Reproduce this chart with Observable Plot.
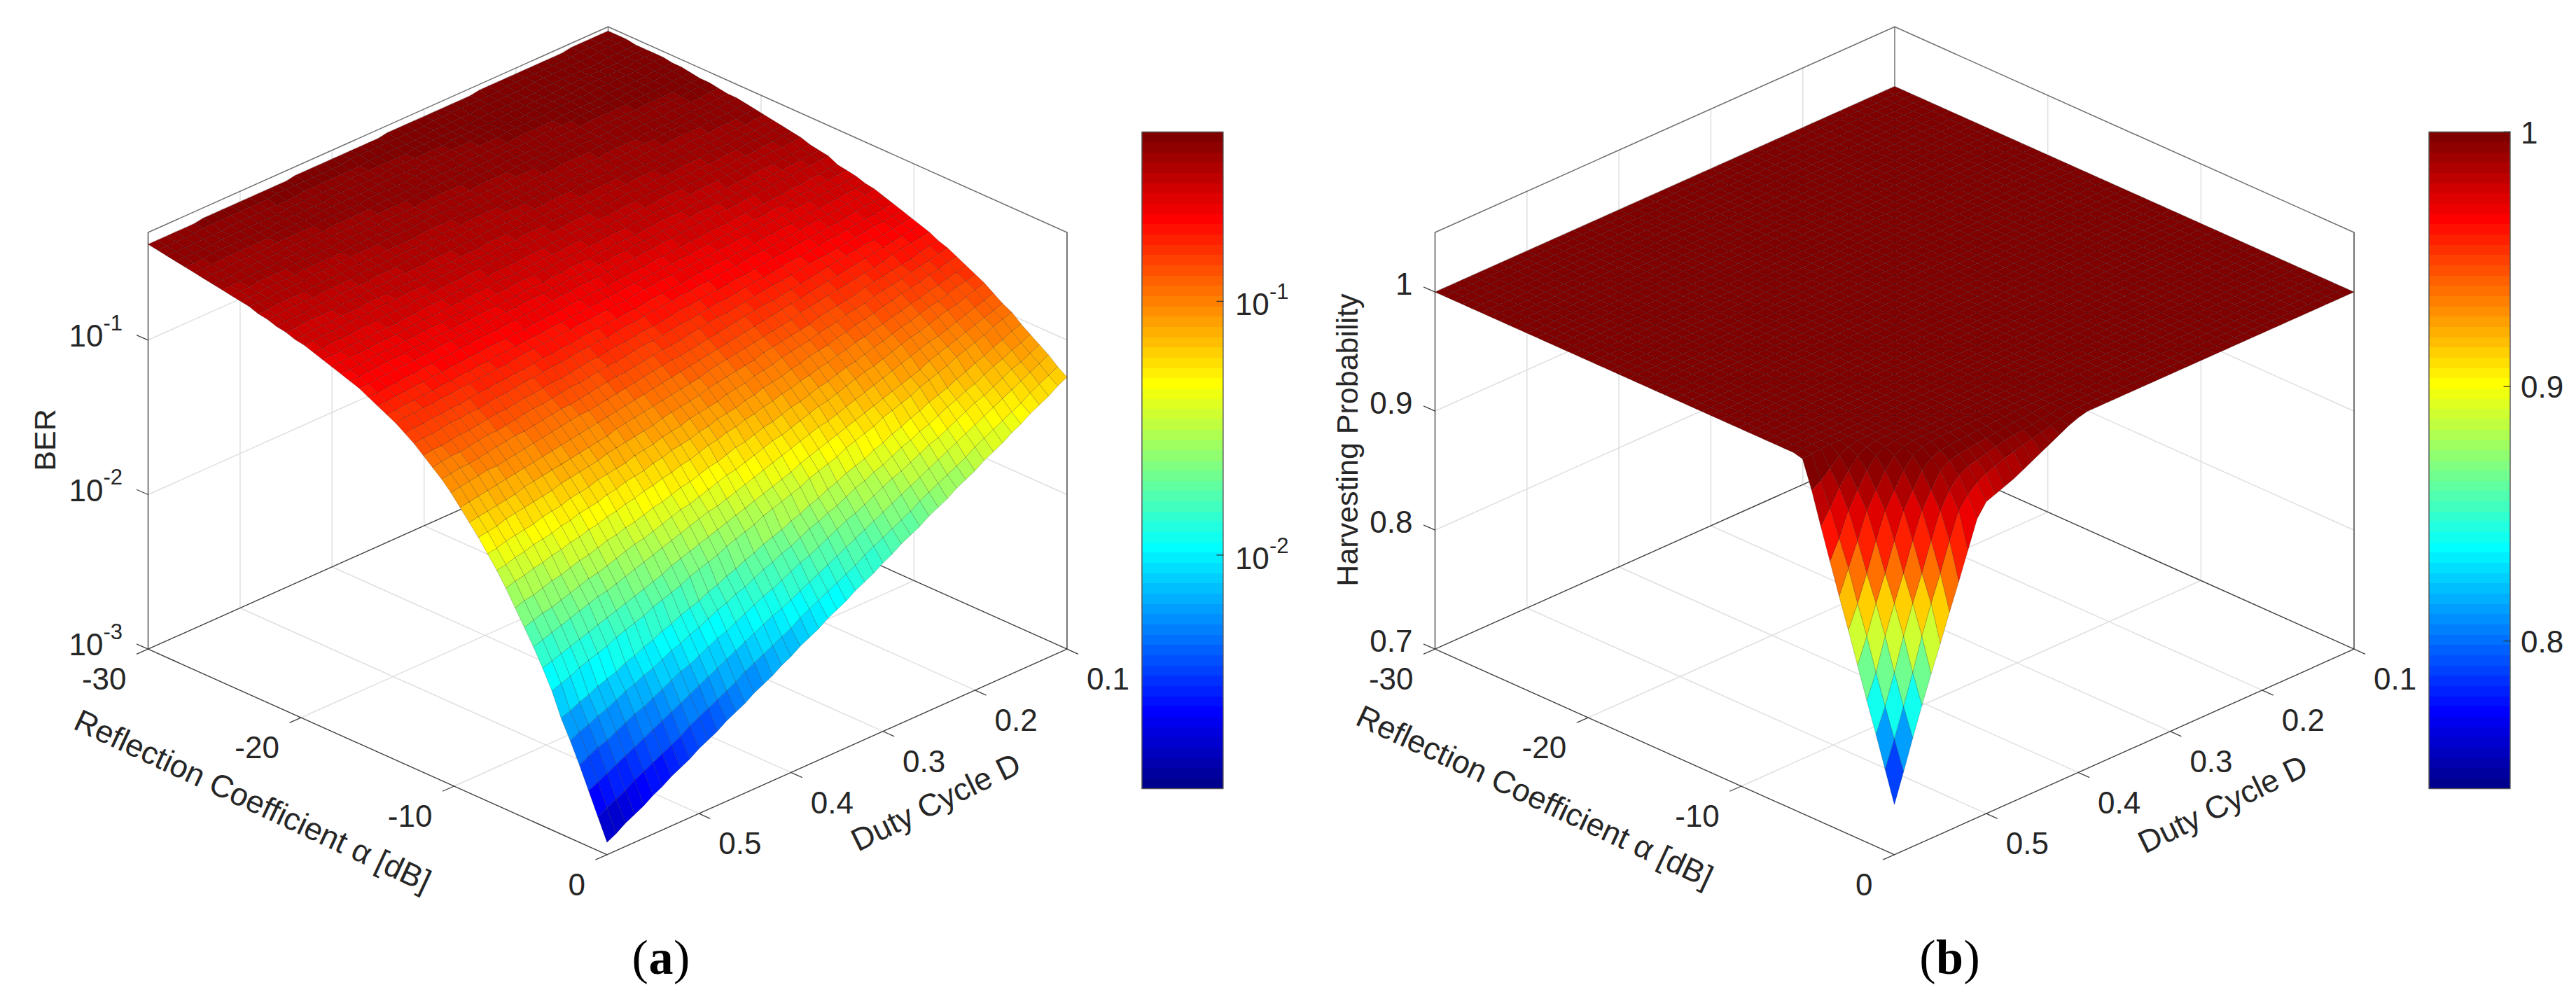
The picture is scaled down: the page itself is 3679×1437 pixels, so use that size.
<!DOCTYPE html>
<html><head><meta charset="utf-8">
<script src="https://cdn.jsdelivr.net/npm/d3@7"></script>
<script src="https://cdn.jsdelivr.net/npm/@observablehq/plot@0.6"></script>
<style>html,body{margin:0;padding:0;background:#fff;overflow:hidden}#a,#b{position:absolute;top:0}#a{left:0}#b{left:1840px}svg{display:block}</style>
</head><body><div id="a"></div><div id="b"></div>
<script>
const alphaTicks = [-30, -20, -10, 0];
const dutyTicks = [0.1, 0.2, 0.3, 0.4, 0.5];
const berTicks = [-1, -2, -3];
const harvestTicks = [1, 0.9, 0.8, 0.7];
const alphaSteps = 50, dutySteps = 50;
// BER, as -100*log10(BER). Rows: alpha -30..0 dB in 0.6 dB steps; columns: D 0.10..0.60 in 0.01 steps.
const berRows = [
[33,33,33,33,33,34,34,34,34,34,34,34,34,34,34,35,35,35,35,35,35,35,35,35,35,36,36,36,36,36,36,36,36,36,36,37,37,37,37,37,37,37,37,37,37,38,38,38,38,38,38],
[33,33,33,33,33,34,34,34,34,34,34,34,34,35,35,35,35,35,35,35,35,36,36,36,36,36,36,36,36,36,37,37,37,37,37,37,37,37,38,38,38,38,38,38,38,38,39,39,39,39,39],
[33,33,33,33,34,34,34,34,34,34,34,35,35,35,35,35,35,36,36,36,36,36,37,37,37,37,37,37,37,38,38,38,38,38,38,38,39,39,39,39,39,39,39,39,40,40,40,40,40,40,40],
[34,34,34,34,35,35,35,35,35,35,35,36,36,36,36,36,36,36,37,37,37,37,37,37,37,38,38,38,38,38,38,38,39,39,39,39,39,39,39,40,40,40,40,40,40,40,41,41,41,41,41],
[34,34,34,35,35,35,35,35,35,35,36,36,36,36,36,36,37,37,37,37,37,37,38,38,38,38,38,38,38,39,39,39,39,39,39,40,40,40,40,40,40,41,41,41,41,41,41,41,42,42,42],
[34,34,34,35,35,35,35,35,35,36,36,36,36,36,37,37,37,37,37,37,38,38,38,38,38,38,39,39,39,39,39,40,40,40,40,40,40,41,41,41,41,41,42,42,42,42,42,42,43,43,43],
[34,34,34,35,35,35,35,35,36,36,36,36,36,37,37,37,37,37,38,38,38,38,38,39,39,39,39,39,40,40,40,40,40,41,41,41,41,41,42,42,42,42,42,43,43,43,43,43,44,44,44],
[35,35,35,36,36,36,36,36,37,37,37,37,37,38,38,38,38,38,39,39,39,39,39,40,40,40,40,40,41,41,41,41,41,42,42,42,42,42,43,43,43,43,43,44,44,44,44,44,45,45,45],
[35,35,35,36,36,36,36,37,37,37,37,37,38,38,38,38,39,39,39,39,39,40,40,40,40,41,41,41,41,41,42,42,42,42,43,43,43,43,43,44,44,44,44,44,45,45,45,45,46,46,46],
[36,36,36,37,37,37,37,38,38,38,38,38,39,39,39,39,40,40,40,40,40,41,41,41,41,42,42,42,42,42,43,43,43,43,44,44,44,44,44,45,45,45,45,45,46,46,46,46,47,47,47],
[37,37,37,38,38,38,38,39,39,39,39,39,40,40,40,40,41,41,41,41,41,42,42,42,42,43,43,43,43,43,44,44,44,44,45,45,45,45,45,46,46,46,46,46,47,47,47,47,48,48,48],
[37,37,37,38,38,38,38,39,39,39,39,40,40,40,40,41,41,41,41,42,42,42,42,43,43,43,43,44,44,44,44,44,45,45,45,45,46,46,46,46,47,47,47,47,48,48,48,48,49,49,49],
[38,38,39,39,39,39,40,40,40,40,41,41,41,41,42,42,42,42,43,43,43,44,44,44,44,45,45,45,45,46,46,46,46,47,47,47,47,48,48,48,48,49,49,49,49,50,50,50,50,51,51],
[39,39,40,40,40,40,41,41,41,41,42,42,42,42,43,43,43,43,44,44,44,45,45,45,45,46,46,46,46,47,47,47,47,48,48,48,48,49,49,49,49,50,50,50,50,51,51,51,51,52,52],
[39,39,40,40,40,41,41,41,41,42,42,42,43,43,43,43,44,44,44,45,45,45,45,46,46,46,47,47,47,47,48,48,48,49,49,49,49,50,50,50,51,51,51,51,52,52,52,53,53,53,54],
[40,40,41,41,41,42,42,42,42,43,43,43,44,44,44,45,45,45,45,46,46,46,47,47,47,48,48,48,48,49,49,49,50,50,50,51,51,51,51,52,52,52,53,53,53,54,54,54,54,55,55],
[41,41,42,42,42,43,43,43,44,44,44,45,45,45,45,46,46,46,47,47,47,48,48,48,49,49,49,50,50,50,51,51,51,52,52,52,53,53,53,53,54,54,54,55,55,55,56,56,56,57,57],
[42,42,43,43,43,44,44,44,45,45,45,45,46,46,46,47,47,47,48,48,48,49,49,49,50,50,50,51,51,51,52,52,52,52,53,53,53,54,54,54,55,55,55,56,56,56,57,57,57,58,58],
[43,43,44,44,44,45,45,45,46,46,46,47,47,47,48,48,48,49,49,49,50,50,50,51,51,51,52,52,52,53,53,53,54,54,55,55,55,56,56,56,57,57,57,58,58,58,59,59,59,60,60],
[44,44,45,45,45,46,46,47,47,47,48,48,48,49,49,49,50,50,51,51,51,52,52,52,53,53,54,54,54,55,55,55,56,56,57,57,57,58,58,58,59,59,60,60,60,61,61,61,62,62,62],
[45,45,46,46,47,47,47,48,48,48,49,49,50,50,50,51,51,51,52,52,53,53,53,54,54,55,55,55,56,56,57,57,57,58,58,58,59,59,60,60,60,61,61,62,62,62,63,63,63,64,64],
[46,46,47,47,47,48,48,49,49,50,50,50,51,51,52,52,52,53,53,54,54,54,55,55,56,56,56,57,57,58,58,58,59,59,60,60,60,61,61,62,62,62,63,63,64,64,64,65,65,66,66],
[48,48,49,49,50,50,50,51,51,52,52,52,53,53,54,54,54,55,55,56,56,56,57,57,58,58,58,59,59,60,60,60,61,61,62,62,62,63,63,64,64,64,65,65,66,66,66,67,67,68,68],
[49,49,50,50,51,51,52,52,52,53,53,54,54,54,55,55,56,56,57,57,57,58,58,59,59,60,60,60,61,61,62,62,62,63,63,64,64,65,65,65,66,66,67,67,68,68,68,69,69,70,70],
[50,50,51,51,52,52,53,53,54,54,55,55,55,56,56,57,57,58,58,59,59,60,60,61,61,62,62,62,63,63,64,64,65,65,66,66,67,67,67,68,68,69,69,70,70,71,71,72,72,73,73],
[53,53,54,54,55,55,56,56,57,57,58,58,59,59,59,60,60,61,61,62,62,63,63,64,64,65,65,65,66,66,67,67,68,68,69,69,70,70,70,71,71,72,72,73,73,74,74,75,75,76,76],
[54,54,55,55,56,56,57,58,58,59,59,60,60,61,61,62,62,63,63,64,64,65,65,66,66,67,67,68,68,69,69,70,70,71,71,72,72,73,73,74,74,75,75,76,76,77,77,78,78,79,79],
[55,56,56,57,57,58,58,59,59,60,60,61,62,62,63,63,64,64,65,65,66,66,67,67,68,69,69,70,70,71,71,72,72,73,73,74,74,75,76,76,77,77,78,78,79,79,80,80,81,81,82],
[57,58,58,59,59,60,60,61,62,62,63,63,64,65,65,66,66,67,67,68,69,69,70,70,71,72,72,73,73,74,74,75,76,76,77,77,78,79,79,80,80,81,81,82,83,83,84,84,85,85,86],
[58,59,59,60,61,61,62,62,63,64,64,65,66,66,67,68,68,69,70,70,71,71,72,73,73,74,75,75,76,77,77,78,78,79,80,80,81,82,82,83,84,84,85,86,86,87,87,88,89,89,90],
[60,61,61,62,63,64,64,65,66,66,67,68,68,69,70,71,71,72,73,73,74,75,75,76,77,78,78,79,80,80,81,82,82,83,84,85,85,86,87,87,88,89,89,90,91,92,92,93,94,94,95],
[62,63,64,64,65,66,67,67,68,69,70,70,71,72,73,73,74,75,76,76,77,78,79,79,80,81,82,82,83,84,85,85,86,87,88,88,89,90,91,91,92,93,94,95,95,96,97,98,98,99,100],
[64,65,66,66,67,68,69,70,71,71,72,73,74,75,75,76,77,78,79,80,80,81,82,83,84,85,85,86,87,88,89,89,90,91,92,93,94,94,95,96,97,98,98,99,100,101,102,103,103,104,105],
[66,67,68,69,70,70,71,72,73,74,75,76,77,78,79,80,80,81,82,83,84,85,86,87,88,89,89,90,91,92,93,94,95,96,97,98,98,99,100,101,102,103,104,105,106,107,107,108,109,110,111],
[68,69,70,71,72,73,74,75,76,77,78,79,80,81,82,83,84,85,86,87,88,89,90,91,92,93,94,95,96,97,98,99,100,101,102,103,104,105,106,107,108,109,110,111,112,113,114,115,116,117,118],
[70,71,72,73,74,76,77,78,79,80,81,82,83,84,85,87,88,89,90,91,92,93,94,95,96,98,99,100,101,102,103,104,105,106,107,109,110,111,112,113,114,115,116,117,118,120,121,122,123,124,125],
[73,74,75,77,78,79,80,81,82,84,85,86,87,88,90,91,92,93,94,95,97,98,99,100,101,102,104,105,106,107,108,110,111,112,113,114,115,117,118,119,120,121,123,124,125,126,127,128,130,131,132],
[75,76,78,79,80,82,83,84,85,87,88,89,91,92,93,95,96,97,98,100,101,102,104,105,106,108,109,110,111,113,114,115,117,118,119,121,122,123,124,126,127,128,130,131,132,134,135,136,137,139,140],
[78,79,81,82,84,85,86,88,89,91,92,93,95,96,98,99,100,102,103,105,106,107,109,110,112,113,114,116,117,119,120,121,123,124,126,127,128,130,131,133,134,135,137,138,140,141,142,144,145,147,148],
[81,83,84,86,87,89,90,92,93,95,96,98,99,101,102,104,105,107,108,110,111,113,114,116,117,119,120,122,123,125,127,128,130,131,133,134,136,137,139,140,142,143,145,146,148,149,151,152,154,155,157],
[84,86,87,89,91,92,94,96,97,99,101,102,104,106,107,109,111,112,114,116,117,119,121,122,124,126,127,129,131,132,134,136,137,139,141,142,144,146,147,149,150,152,154,155,157,159,160,162,164,165,167],
[87,89,91,93,94,96,98,100,101,103,105,107,109,110,112,114,116,118,119,121,123,125,127,128,130,132,134,136,137,139,141,143,145,146,148,150,152,154,155,157,159,161,163,164,166,168,170,172,173,175,177],
[91,93,95,97,99,101,103,104,106,108,110,112,114,116,118,120,122,124,126,127,129,131,133,135,137,139,141,143,145,147,149,150,152,154,156,158,160,162,164,166,168,170,172,173,175,177,179,181,183,185,187],
[95,97,99,101,103,105,107,109,111,114,116,118,120,122,124,126,128,130,132,134,136,138,140,143,145,147,149,151,153,155,157,159,161,163,165,167,169,172,174,176,178,180,182,184,186,188,190,192,194,196,198],
[98,100,102,105,107,109,111,114,116,118,120,123,125,127,129,132,134,136,138,141,143,145,147,150,152,154,156,158,161,163,165,167,170,172,174,176,179,181,183,185,188,190,192,194,197,199,201,203,206,208,210],
[103,105,108,110,113,115,118,120,123,125,127,130,132,135,137,140,142,145,147,149,152,154,157,159,162,164,167,169,171,174,176,179,181,184,186,189,191,193,196,198,201,203,206,208,211,213,215,218,220,223,225],
[107,110,112,115,117,120,123,125,128,130,133,136,138,141,143,146,149,151,154,156,159,162,164,167,169,172,175,177,180,182,185,188,190,193,195,198,201,203,206,208,211,214,216,219,221,224,227,229,232,234,237],
[111,114,117,119,122,125,128,130,133,136,139,142,144,147,150,153,155,158,161,164,167,169,172,175,178,181,183,186,189,192,194,197,200,203,206,208,211,214,217,219,222,225,228,231,233,236,239,242,244,247,250],
[115,118,121,124,127,130,133,136,139,142,145,148,151,154,157,160,163,166,169,172,175,178,181,184,187,190,193,196,199,202,204,207,210,213,216,219,222,225,228,231,234,237,240,243,246,249,252,255,258,261,264],
[120,123,126,129,133,136,139,142,145,148,152,155,158,161,164,167,171,174,177,180,183,186,190,193,196,199,202,205,208,212,215,218,221,224,227,231,234,237,240,243,246,250,253,256,259,262,265,269,272,275,278],
[124,127,131,134,137,141,144,148,151,154,158,161,164,168,171,174,178,181,184,188,191,195,198,201,205,208,211,215,218,221,225,228,232,235,238,242,245,248,252,255,258,262,265,268,272,275,279,282,285,289,292]
];
// Harvesting probability x 1000 in the trough of panel (b). Rows: alpha 0, -0.6, ... dB; columns: D 0.60, 0.59, ... Everything else is the plateau.
const harvestPlateau = 1000;
const harvestTrough = [
[742,766,791,815,838,860,883,905,928,951,962,965,968,971,975,979,983,987,991,995,998],
[768,790,814,839,866,890,912,936,958,968,975,979,982,985,987,989,991,993,995,997,999],
[794,814,839,866,890,912,936,958,972,981,985,987,989,991,993,994,995,996,997,998,1000],
[819,839,866,890,912,936,958,972,985,990,992,993,994,995,996,997,998,998,999,1000,1000],
[845,866,890,912,936,958,972,985,992,995,996,997,997,998,998,999,999,1000,1000,1000,1000],
[871,890,912,936,958,972,985,994,998,999],
[896,916,936,958,972,985,994,998],
[922,938,958,972,985,994,998],
[948,960,974,985,994,998],
[975,980,987,994,998],
[998,999]
];

const SY = 293.7, FLOOR = 633;
const jet = d3.range(64).map(k => {
  const t = (k + 1) / 64, c = v => Math.round(255 * Math.max(0, Math.min(1, 1.5 - Math.abs(4 * t - v))));
  return `rgb(${c(3)},${c(2)},${c(1)})`;
});
const FONT = "Liberation Sans, Arial, sans-serif", INK = "#262626";

function panel(cfg) {
  const {node, ox, width, backX, sxR, sxL, zLo, zPx, value, toColor, fromLevel, zTickList, yTitle, yTitleX, tag, tagHalf} = cfg;
  const L = backX - sxL, R = backX + sxR, B = backX + sxR - sxL;
  const P = (alpha, D, h) => {
    const u = (alpha + 30) / 30, w = (D - 0.1) / 0.5;
    return [backX - ox + sxR * u - sxL * w, FLOOR + SY * (u + w) - (h - zLo) * zPx];
  };
  const zTop = zLo + (926.7 - 331.5) / zPx;
  const line = (...pts) => ({type: "LineString", coordinates: pts});
  const grid = [], floorBack = [], top = [], sides = [], ticks = [];
  for (const a of alphaTicks) {
    if (a > -30) grid.push(line(P(a, 0.1, zLo), P(a, 0.1, zTop)));
    if (a > -30 && a < 0) grid.push(line(P(a, 0.1, zLo), P(a, 0.6, zLo)));
    ticks.push(line(P(a, 0.6, zLo), [P(a, 0.6, zLo)[0] - 16, P(a, 0.6, zLo)[1] + 7]));
  }
  for (const d of dutyTicks) {
    if (d > 0.1) {
      grid.push(line(P(-30, d, zLo), P(-30, d, zTop)));
      grid.push(line(P(-30, d, zLo), P(0, d, zLo)));
    }
    ticks.push(line(P(0, d, zLo), [P(0, d, zLo)[0] + 15.5, P(0, d, zLo)[1] + 7]));
  }
  for (const z of zTickList) {
    if (z > zLo) grid.push(line(P(-30, 0.6, z), P(-30, 0.1, z), P(0, 0.1, z)));
    ticks.push(line(P(-30, 0.6, z), [P(-30, 0.6, z)[0] - 16, P(-30, 0.6, z)[1] - 7]));
  }
  floorBack.push(line(P(-30, 0.6, zLo), P(-30, 0.1, zLo), P(0, 0.1, zLo)));
  floorBack.push(line(P(-30, 0.6, zLo), P(0, 0.6, zLo), P(0, 0.1, zLo)));
  sides.push(line(P(-30, 0.6, zLo), P(-30, 0.6, zTop)), line(P(0, 0.1, zLo), P(0, 0.1, zTop)));
  top.push(line(P(-30, 0.6, zTop), P(-30, 0.1, zTop), P(0, 0.1, zTop)), line(P(-30, 0.1, zTop), P(-30, 0.1, zLo)));

  const cells = [];
  for (let s = 0; s <= alphaSteps + dutySteps - 2; s++)
    for (let i = Math.max(0, s - dutySteps + 1); i < alphaSteps && i <= s; i++) {
      const j = s - i, a0 = -30 + 0.6 * i, a1 = a0 + 0.6, d0 = 0.1 + 0.01 * j, d1 = d0 + 0.01;
      const h = (ii, jj) => value(ii, jj)[0];
      cells.push({
        c: value(i, j)[1],
        geom: {type: "Polygon", coordinates: [[P(a0, d0, h(i, j)), P(a1, d0, h(i + 1, j)), P(a1, d1, h(i + 1, j + 1)), P(a0, d1, h(i, j + 1)), P(a0, d0, h(i, j))]]}
      });
    }

  // colour bar
  const barL = R - ox + 107, barR = R - ox + 223, barT = 188, barB = 1126;
  const bar = d3.range(64).map(k => {
    const y0 = barB - (k + 1) * (barB - barT) / 64, y1 = barB - k * (barB - barT) / 64;
    return {c: fromLevel((k + 0.5) / 64), geom: {type: "Polygon", coordinates: [[[barL, y0], [barR, y0], [barR, y1], [barL, y1], [barL, y0]]]}};
  });
  const barFrame = [line([barL, barB], [barL, barT], [barR, barT], [barR, barB], [barL, barB])];
  const barY = toColor;
  const barTicks = cfg.barTicks.map(t => line([barR - 9, barY(t)], [barR, barY(t)]));

  const T = (data, o) => Plot.text(data, {x: "x", y: "y", text: "t", fill: INK, fontFamily: FONT, fontSize: 44, ...o});
  const alphaLabels = alphaTicks.map(a => {const p = P(a, 0.6, zLo); return {x: p[0] - 31, y: p[1] + 44, t: String(a)};});
  const dutyLabels = dutyTicks.map(d => {const p = P(0, d, zLo); return {x: p[0] + 28, y: p[1] + 44, t: d.toFixed(1)};});

  const marks = [
    Plot.geo(grid, {stroke: "#dfdfdf", strokeWidth: 1.5}),
    Plot.geo(floorBack, {stroke: "#3f3f3f", strokeWidth: 1.4}),
    Plot.geo(sides, {stroke: "#404040", strokeWidth: 1.4}),
    Plot.geo(top, {stroke: "#707070", strokeWidth: 1.5}),
    Plot.geo(ticks, {stroke: "#404040", strokeWidth: 1.3}),
    Plot.geo(cells, {geometry: "geom", fill: "c", stroke: "#000", strokeOpacity: 0.2, strokeWidth: 1}),
    Plot.geo(bar, {geometry: "geom", fill: "c", shapeRendering: "crispEdges"}),
    Plot.geo(barFrame, {stroke: "#555", strokeWidth: 1.4}),
    Plot.geo(barTicks, {stroke: "#333", strokeWidth: 1.3}),
    T(alphaLabels, {textAnchor: "end"}),
    T(dutyLabels, {textAnchor: "start"}),
    T([{x: L - ox + cfg.alphaTitleDx, y: cfg.alphaTitleY, t: "Reflection Coefficient \u03b1 [dB]"}], {rotate: 25, fontSize: 45}),
    T([{x: R - ox - 187, y: cfg.dutyTitleY, t: "Duty Cycle D"}], {rotate: -26, fontSize: 45}),
    T([{x: yTitleX - ox, y: 628, t: yTitle}], {rotate: -90, fontSize: 43}),
    T([{x: B - ox + tag[1] - tagHalf, y: 1368, t: "("}], {fontFamily: "Liberation Serif, serif", fontSize: 70, fill: "#000", textAnchor: "end"}),
    T([{x: B - ox + tag[1], y: 1368, t: tag[0]}], {fontFamily: "Liberation Serif, serif", fontWeight: "bold", fontSize: 70, fill: "#000"}),
    T([{x: B - ox + tag[1] + tagHalf, y: 1368, t: ")"}], {fontFamily: "Liberation Serif, serif", fontSize: 70, fill: "#000", textAnchor: "start"}),
    ...cfg.extra({L: L - ox, barR, barY, P, T})
  ];
  const svg = Plot.plot({
    width, height: 1437, margin: 0,
    projection: d3.geoIdentity(),
    color: {type: "threshold", domain: cfg.thresholds, range: jet},
    style: {background: "transparent", maxWidth: "none"},
    marks
  });
  node.appendChild(svg);
}

// Panel (a): BER on a log axis
const berLo = -2.92, berHi = -0.333;
panel({
  node: document.getElementById("a"), ox: 0, width: 1840, backX: 868, sxR: 655.4, sxL: 657, zLo: -3, zPx: 220.7,
  value: (i, j) => {const r = berRows[i], l = -r[Math.min(j, r.length - 1)] / 100; return [l, Math.pow(10, l)];},
  thresholds: d3.range(1, 64).map(k => Math.pow(10, berLo + (berHi - berLo) * k / 64)),
  fromLevel: t => Math.pow(10, berLo + (berHi - berLo) * t),
  toColor: l => 188 + (berHi - l) / (berHi - berLo) * 938,
  barTicks: [-1, -2],
  zTickList: berTicks,
  yTitle: "BER", yTitleX: 65, tag: ["a", 77], tagHalf: 18,
  alphaTitleDx: 149, alphaTitleY: 1144, dutyTitleY: 1146,
  extra: ({L, barR, barY, P, T}) => {
    const zs = berTicks.map(z => {const p = P(-30, 0.6, z); return {x: L - 64, y: p[1] - 5, t: "10", e: String(z), ey: p[1] - 24};});
    const bs = [-1, -2].map(z => ({x: barR + 17, y: barY(z) + 6, t: "10", e: String(z), ey: barY(z) - 13}));
    return [
      T(zs, {textAnchor: "end"}),
      T(zs, {text: "e", y: "ey", textAnchor: "start", fontSize: 31}),
      T(bs, {textAnchor: "start"}),
      T(bs, {text: "e", x: d => d.x + 49, y: "ey", textAnchor: "start", fontSize: 31})
    ];
  }
});

// Panel (b): harvesting probability on a linear axis
const hvLo = 0.742, hvHi = 1;
panel({
  node: document.getElementById("b"), ox: 1840, width: 1839, backX: 2705.5, sxR: 656, sxL: 656.5, zLo: 0.7, zPx: 1700,
  value: (i, j) => {const v = (harvestTrough[alphaSteps - i]?.[dutySteps - j] ?? harvestPlateau) / 1000; return [v, v];},
  thresholds: d3.range(1, 64).map(k => hvLo + (hvHi - hvLo) * k / 64),
  fromLevel: t => hvLo + (hvHi - hvLo) * t,
  toColor: v => 188 + (hvHi - v) / (hvHi - hvLo) * 938,
  barTicks: [1, 0.9, 0.8],
  zTickList: harvestTicks,
  yTitle: "Harvesting Probability", yTitleX: 1925, tag: ["b", 79], tagHalf: 20,
  alphaTitleDx: 142, alphaTitleY: 1138, dutyTitleY: 1149,
  extra: ({L, barR, barY, P, T}) => {
    const zs = harvestTicks.map(z => ({x: L - 32, y: P(-30, 0.6, z)[1] - 10, t: String(z)}));
    const bs = [1, 0.9, 0.8].map(z => ({x: barR + 15, y: barY(z) + 2, t: String(z)}));
    return [T(zs, {textAnchor: "end"}), T(bs, {textAnchor: "start"})];
  }
});
</script></body></html>
